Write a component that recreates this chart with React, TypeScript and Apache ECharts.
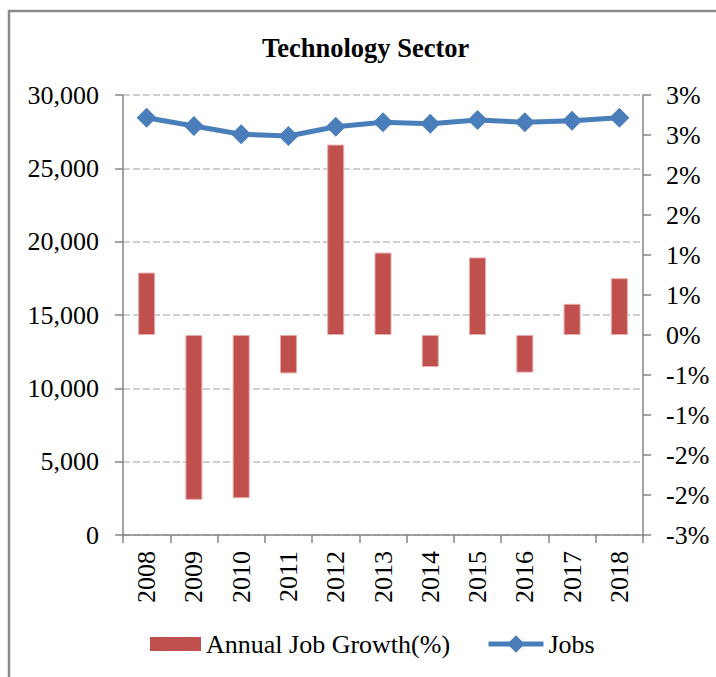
import React, { useEffect, useRef } from "react";
import * as echarts from "echarts";

const title = "Technology Sector";
const years = ["2008", "2009", "2010", "2011", "2012", "2013", "2014", "2015", "2016", "2017", "2018"];
const jobs = [28450, 27890, 27320, 27200, 27840, 28140, 28040, 28290, 28140, 28250, 28450];
const growthPct = [0.78, -2.06, -2.04, -0.48, 2.38, 1.03, -0.4, 0.97, -0.47, 0.39, 0.71];
const growthName = "Annual Job Growth(%)";
const jobsName = "Jobs";
const leftAxisRange = [0, 30000];
const leftAxisStep = 5000;
const rightAxisRange = [-2.5, 3];
const rightAxisStep = 0.5;

const FONT = "'Liberation Serif', 'Times New Roman', serif";
const AXIS_GRAY = "#868686";

function fmtThousands(v: number): string {
  return Math.round(v).toString().replace(/\B(?=(\d{3})+(?!\d))/g, ",");
}

function fmtPct(v: number): string {
  const r = Math.round(Math.abs(v) + 1e-9);
  if (r === 0) return "0%";
  return (v < 0 ? "-" : "") + r + "%";
}

export default function App() {
  const ref = useRef<HTMLDivElement>(null);
  useEffect(() => {
    if (!ref.current) return;
    const chart = echarts.init(ref.current, undefined, { renderer: "svg" });
    chart.setOption({
      animation: false,
      backgroundColor: "#ffffff",
      textStyle: { fontFamily: FONT },
      title: {
        text: title,
        left: 257,
        top: 29,
        textStyle: { fontFamily: FONT, fontSize: 26.5, fontWeight: "bold", color: "#000" },
      },
      graphic: [
        {
          type: "rect",
          shape: { x: 9, y: 11, width: 800, height: 800 },
          style: { fill: "none", stroke: "#8a8a8a", lineWidth: 2.5 },
          silent: true,
        },
      ],
      legend: [
        {
          data: [{ name: growthName, icon: "rect" }],
          left: 145,
          top: 626,
          itemWidth: 51,
          itemHeight: 14,
          itemStyle: { borderWidth: 0, color: "#C0504D" },
          textStyle: { fontFamily: FONT, fontSize: 26, color: "#000" },
        },
        {
          data: [jobsName],
          left: 481,
          top: 626,
          itemWidth: 55,
          itemHeight: 22,
          lineStyle: { width: 5, color: "#4A7EBB" },
          textStyle: { fontFamily: FONT, fontSize: 26, color: "#000" },
        },
      ],
      grid: { left: 123, right: 73, top: 95, bottom: 142, containLabel: false },
      xAxis: {
        type: "category",
        data: years,
        boundaryGap: true,
        axisLine: { show: true, lineStyle: { color: AXIS_GRAY, width: 1.5 } },
        axisTick: { show: true, length: 8, interval: 0, alignWithLabel: false, lineStyle: { color: AXIS_GRAY, width: 1.5 } },
        axisLabel: { rotate: 90, interval: 0, margin: 16, fontFamily: FONT, fontSize: 26, color: "#000" },
        splitLine: { show: false },
      },
      yAxis: [
        {
          type: "value",
          position: "left",
          min: leftAxisRange[0],
          max: leftAxisRange[1],
          interval: leftAxisStep,
          axisLine: { show: true, lineStyle: { color: AXIS_GRAY, width: 1.5 } },
          axisTick: { show: true, length: 8, lineStyle: { color: AXIS_GRAY, width: 1.5 } },
          axisLabel: { margin: 24, fontFamily: FONT, fontSize: 26, color: "#000", formatter: fmtThousands },
          splitLine: { show: true, lineStyle: { color: "#c0c0c0", width: 1.5, type: [7, 3] } },
        },
        {
          type: "value",
          position: "right",
          min: rightAxisRange[0],
          max: rightAxisRange[1],
          interval: rightAxisStep,
          axisLine: { show: true, lineStyle: { color: AXIS_GRAY, width: 1.5 } },
          axisTick: { show: true, length: 8, lineStyle: { color: AXIS_GRAY, width: 1.5 } },
          axisLabel: { margin: 23, fontFamily: FONT, fontSize: 26, color: "#000", formatter: fmtPct },
          splitLine: { show: false },
        },
      ],
      series: [
        {
          name: growthName,
          type: "bar",
          yAxisIndex: 1,
          data: growthPct,
          barWidth: 17,
          itemStyle: { color: "#C0504D", borderColor: "#e9a9a8", borderWidth: 1 },
          z: 2,
        },
        {
          name: jobsName,
          type: "line",
          yAxisIndex: 0,
          data: jobs,
          symbol: "diamond",
          symbolSize: 20,
          lineStyle: { color: "#4A7EBB", width: 5 },
          itemStyle: { color: "#4A7EBB" },
          z: 3,
        },
      ],
    });
    return () => chart.dispose();
  }, []);
  return (
    <div
      ref={ref}
      style={{ position: "absolute", left: 0, top: 0, width: 716, height: 677 }}
    />
  );
}
